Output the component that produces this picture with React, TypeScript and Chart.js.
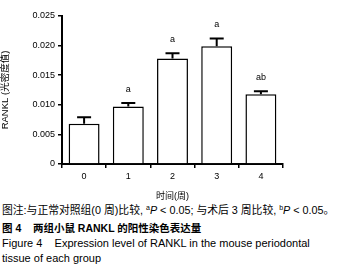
import React, { useEffect, useRef } from "react";
import { Chart, registerables } from "chart.js";

Chart.register(...registerables);

const categories = ["0", "1", "2", "3", "4"];
const means = [0.0068, 0.0097, 0.0178, 0.0199, 0.0118];
const errors = [0.0011, 0.0006, 0.0009, 0.0013, 0.0005];
const marks = ["", "a", "a", "a", "ab"];
const yTicks = [0, 0.005, 0.01, 0.015, 0.02, 0.025];

const FONT = "'Liberation Sans', Arial, 'Noto Sans CJK SC', sans-serif";

const errorPlugin = {
  id: "errbars",
  afterDatasetsDraw(chart: any) {
    const ctx = chart.ctx;
    const meta = chart.getDatasetMeta(0);
    const ys = chart.scales.y;
    ctx.save();
    ctx.strokeStyle = "#000";
    ctx.lineWidth = 2;
    meta.data.forEach((bar: any, i: number) => {
      const top = ys.getPixelForValue(means[i]);
      const et = ys.getPixelForValue(means[i] + errors[i]);
      ctx.beginPath();
      ctx.moveTo(bar.x, top);
      ctx.lineTo(bar.x, et);
      ctx.moveTo(bar.x - 7, et);
      ctx.lineTo(bar.x + 7, et);
      ctx.stroke();
      if (marks[i]) {
        ctx.fillStyle = "#000";
        ctx.font = "9px " + FONT;
        ctx.textAlign = "center";
        ctx.textBaseline = "middle";
        ctx.fillText(marks[i], bar.x, et - 14);
      }
    });
    ctx.restore();
  },
};

export default function App() {
  const ref = useRef<HTMLCanvasElement>(null);
  useEffect(() => {
    document.body.style.margin = "0";
    const chart = new Chart(ref.current!, {
      type: "bar",
      data: {
        labels: categories,
        datasets: [
          {
            data: means,
            backgroundColor: "#fff",
            borderColor: "#000",
            borderWidth: 1.5,
            barPercentage: 0.7,
            categoryPercentage: 1,
          },
        ],
      },
      options: {
        animation: false,
        responsive: false,
        maintainAspectRatio: false,
        layout: { padding: { top: 16, right: 54, left: 0, bottom: 0 } },
        plugins: { legend: { display: false }, tooltip: { enabled: false } },
        scales: {
          x: {
            grid: { display: true, drawOnChartArea: false, drawTicks: true, tickLength: 4, color: "#000", lineWidth: 1.5 },
            border: { display: true, color: "#000", width: 2 },
            ticks: { color: "#000", font: { size: 9, family: FONT }, padding: 3 },
            title: { display: true, text: "时间(周)", color: "#000", font: { size: 9, family: FONT }, padding: { top: 2, bottom: 0 } },
            afterFit: (s: any) => { s.height = 38; },
          },
          y: {
            min: 0,
            max: 0.025,
            afterBuildTicks: (s: any) => { s.ticks = yTicks.map((v) => ({ value: v })); },
            grid: { display: true, drawOnChartArea: false, drawTicks: true, tickLength: 4, color: "#000", lineWidth: 1.5 },
            border: { display: true, color: "#000", width: 2 },
            ticks: {
              color: "#000",
              font: { size: 9, family: FONT },
              padding: 3,
              callback: (v: any) => (v === 0 ? "0" : Number(v).toFixed(3)),
            },
            title: { display: true, text: "RANKL (光密度值)", color: "#000", font: { size: 9.5, family: FONT }, padding: { top: 0, bottom: 4 } },
            afterFit: (s: any) => { s.width = 62; },
          },
        },
      },
      plugins: [errorPlugin],
    });
    return () => chart.destroy();
  }, []);

  const cap: React.CSSProperties = {
    position: "absolute",
    left: 2,
    fontSize: 11,
    fontFamily: FONT,
    color: "#000",
    whiteSpace: "nowrap",
    lineHeight: "14px",
  };
  const sup: React.CSSProperties = { fontSize: 7, verticalAlign: "4px", lineHeight: 0 };

  return (
    <div style={{ position: "relative", width: 337, height: 273, background: "#fff", overflow: "hidden" }}>
      <canvas ref={ref} width={337} height={202} style={{ position: "absolute", left: 0, top: 0 }} />
      <div style={{ ...cap, top: 203, fontSize: 10.8 }}>
        图注:与正常对照组(0 周)比较, <span style={sup}>a</span><i>P</i> &lt; 0.05; 与术后 3 周比较, <span style={sup}>b</span><i>P</i> &lt; 0.05。
      </div>
      <div style={{ ...cap, top: 221, fontWeight: "bold", fontSize: 10.5 }}>
        图 4&nbsp;&nbsp;&nbsp;&nbsp;两组小鼠 RANKL 的阳性染色表达量
      </div>
      <div style={{ ...cap, top: 236 }}>
        Figure 4&nbsp;&nbsp;&nbsp;&nbsp;Expression level of RANKL in the mouse periodontal
      </div>
      <div style={{ ...cap, top: 251 }}>tissue of each group</div>
    </div>
  );
}
